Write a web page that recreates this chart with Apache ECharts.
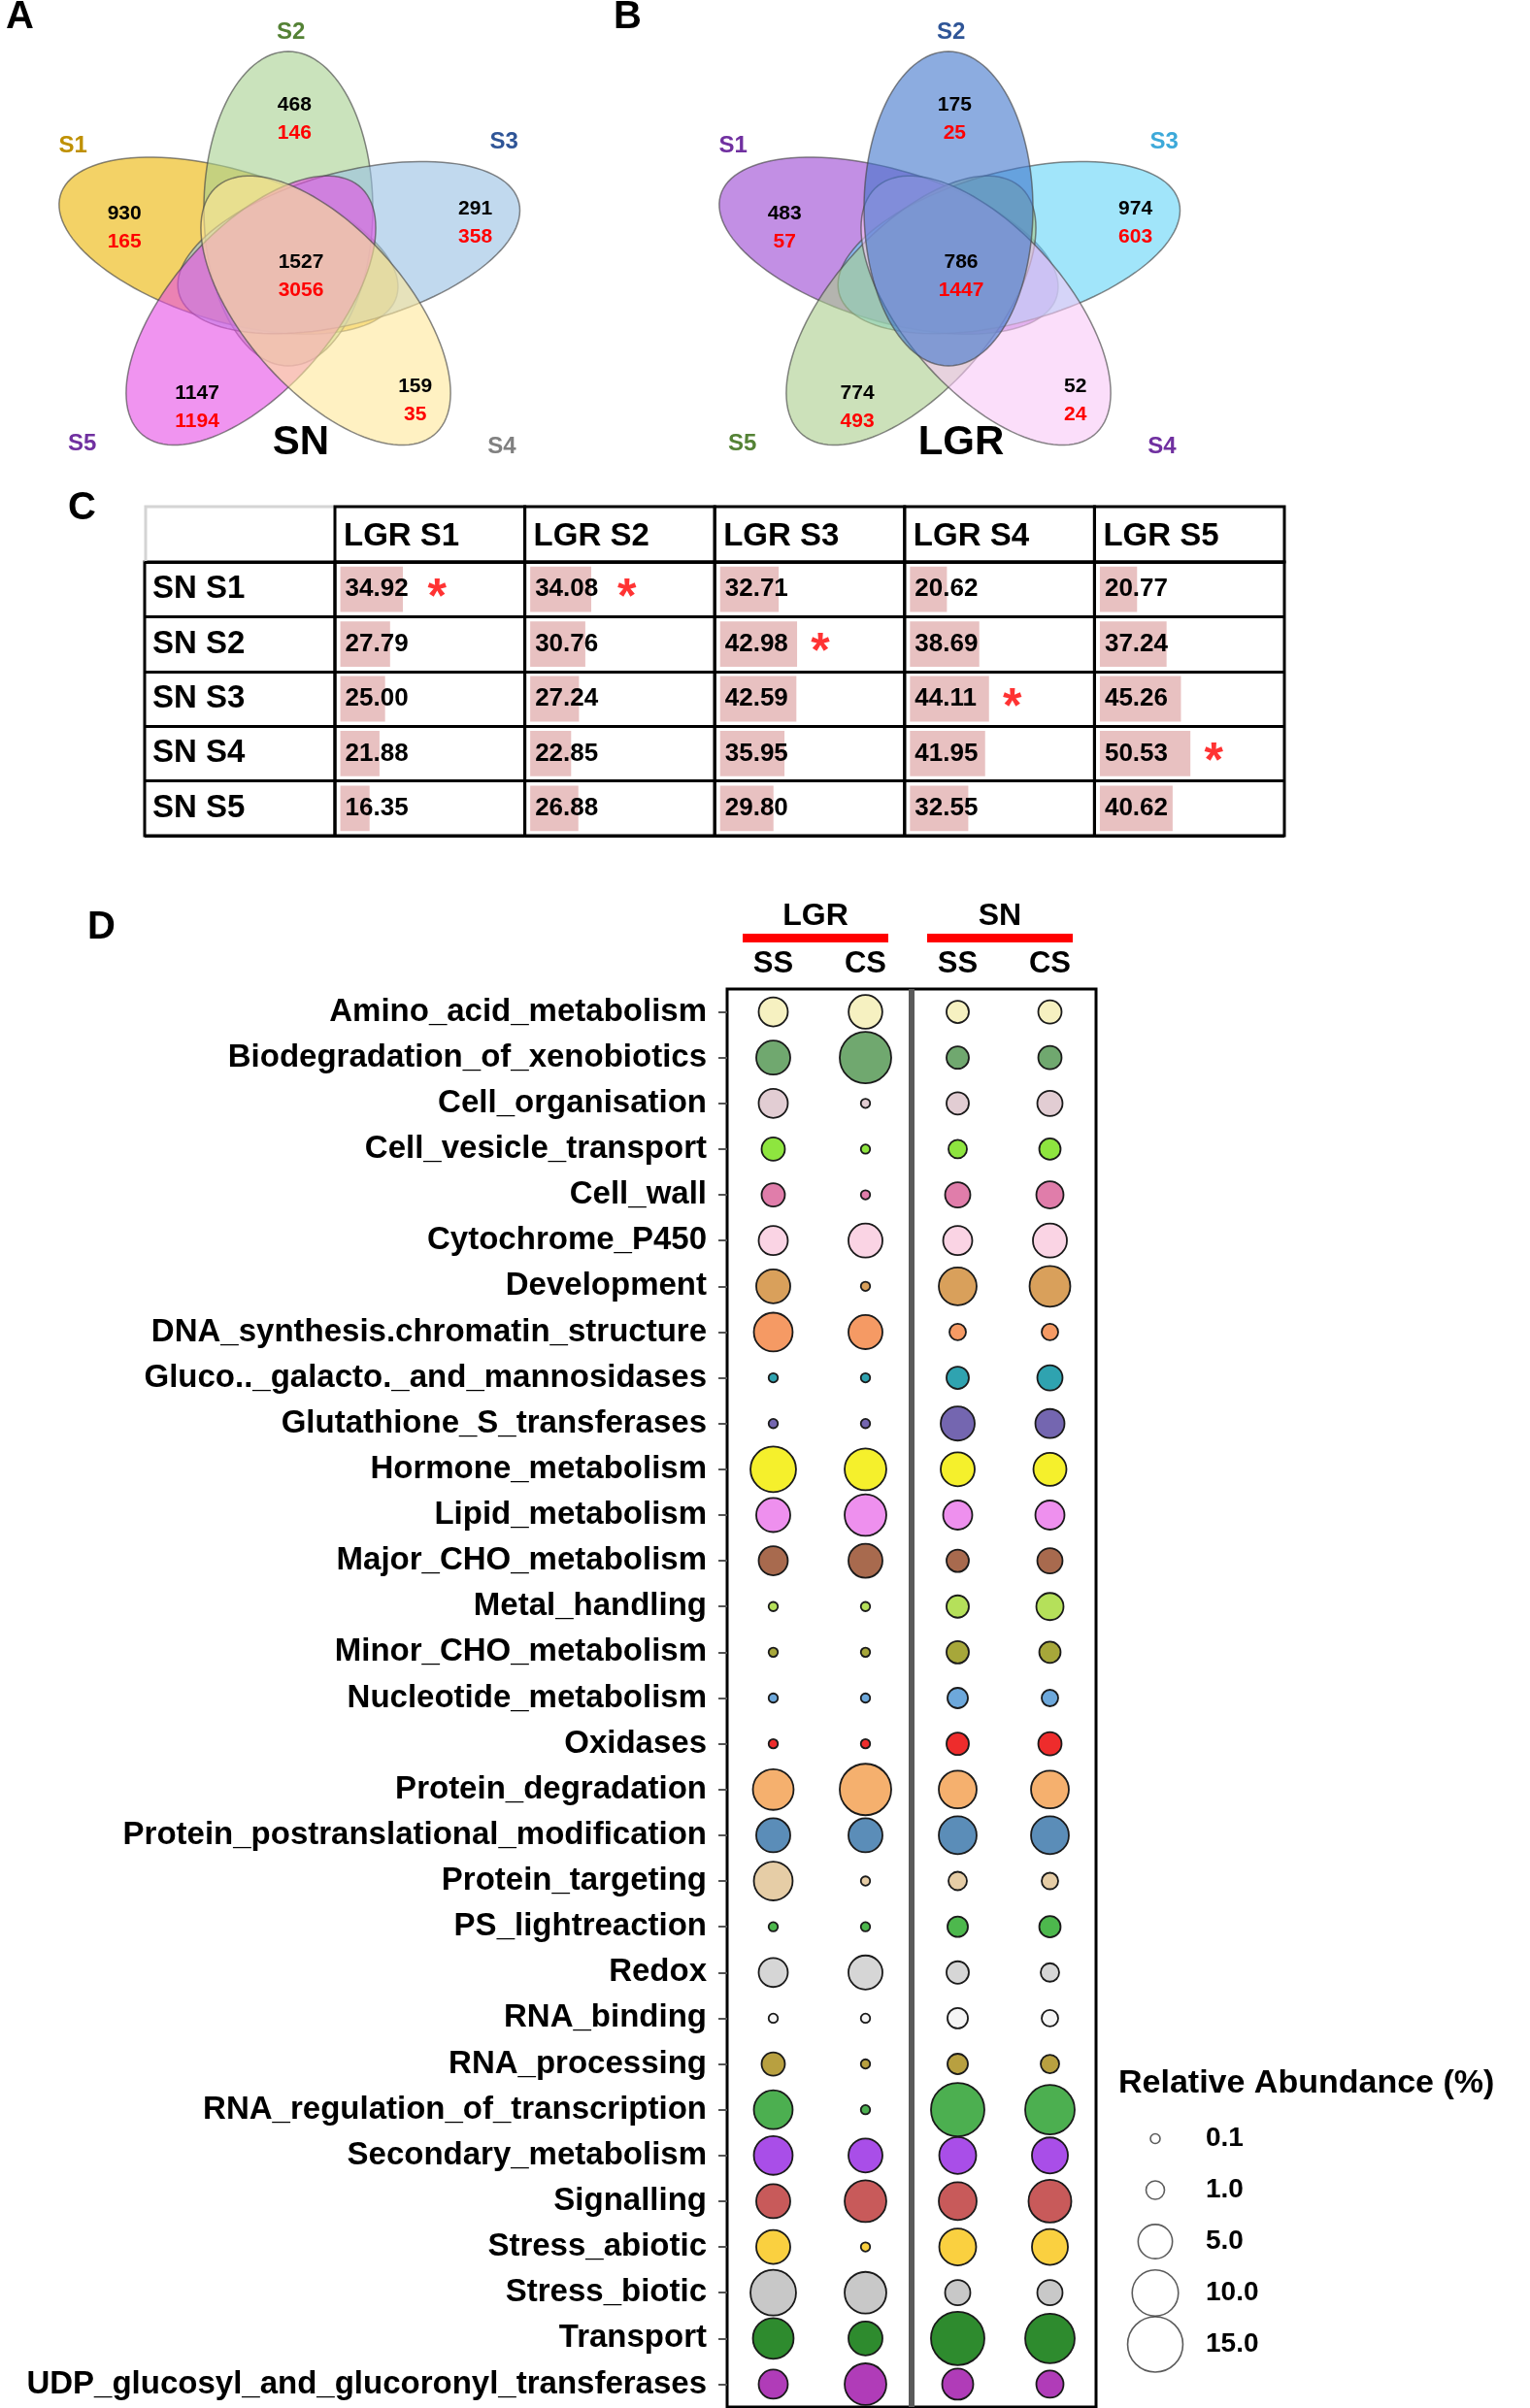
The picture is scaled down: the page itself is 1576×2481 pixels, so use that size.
<!DOCTYPE html>
<html>
<head>
<meta charset="utf-8">
<title>Venn diagrams, similarity table and pathway bubble chart</title>
<script src="https://cdn.jsdelivr.net/npm/echarts@6/dist/echarts.min.js"></script>
<style>
  html, body { margin: 0; padding: 0; background: #fff; }
  #chart { width: 1576px; height: 2481px; }
</style>
</head>
<body>
<div id="chart"></div>
<script>
// ---- data ----
// A / B: Venn counts per set S1..S5 (black = first number, red = second)
const vennSets = ['S1', 'S2', 'S3', 'S4', 'S5']
const snUniqueBlack = [930, 468, 291, 159, 1147]
const snUniqueRed = [165, 146, 358, 35, 1194]
const snCore = [1527, 3056]
const lgrUniqueBlack = [483, 175, 974, 52, 774]
const lgrUniqueRed = [57, 25, 603, 24, 493]
const lgrCore = [786, 1447]

// C: similarity table
const lgrCols = ['LGR S1', 'LGR S2', 'LGR S3', 'LGR S4', 'LGR S5']
const snRows = ['SN S1', 'SN S2', 'SN S3', 'SN S4', 'SN S5']
const similarity = [
  [34.92, 34.08, 32.71, 20.62, 20.77],
  [27.79, 30.76, 42.98, 38.69, 37.24],
  [25.00, 27.24, 42.59, 44.11, 45.26],
  [21.88, 22.85, 35.95, 41.95, 50.53],
  [16.35, 26.88, 29.80, 32.55, 40.62]
]
const starred = [[0, 0], [0, 1], [1, 2], [2, 3], [3, 4]] // [row, col]

// D: relative abundance (%)
const pathways = [
  'Amino_acid_metabolism', 'Biodegradation_of_xenobiotics', 'Cell_organisation',
  'Cell_vesicle_transport', 'Cell_wall', 'Cytochrome_P450', 'Development',
  'DNA_synthesis.chromatin_structure', 'Gluco.._galacto._and_mannosidases',
  'Glutathione_S_transferases', 'Hormone_metabolism', 'Lipid_metabolism',
  'Major_CHO_metabolism', 'Metal_handling', 'Minor_CHO_metabolism',
  'Nucleotide_metabolism', 'Oxidases', 'Protein_degradation',
  'Protein_postranslational_modification', 'Protein_targeting', 'PS_lightreaction',
  'Redox', 'RNA_binding', 'RNA_processing', 'RNA_regulation_of_transcription',
  'Secondary_metabolism', 'Signalling', 'Stress_abiotic', 'Stress_biotic',
  'Transport', 'UDP_glucosyl_and_glucoronyl_transferases'
]
const sampleGroups = ['LGR SS', 'LGR CS', 'SN SS', 'SN CS']
const groupNames = ['LGR', 'SN']
const lgrSS = [3.36, 4.9, 3.36, 1.9, 1.9, 3.36, 4.9, 6.7, 0.08, 0.08, 9.7, 4.9, 3.36, 0.08, 0.08, 0.08,
  0.08, 7.5, 4.9, 6.7, 0.08, 3.36, 0.08, 1.9, 6.7, 6.7, 4.9, 4.9, 9.7, 7.5, 3.36]
const lgrCS = [4.8, 12.8, 0.08, 0.08, 0.08, 4.9, 0.08, 4.9, 0.08, 0.08, 7.9, 7.9, 4.9, 0.08, 0.08, 0.08,
  0.08, 12.8, 4.9, 0.08, 0.08, 4.9, 0.08, 0.08, 0.08, 4.9, 7.9, 0.08, 7.9, 4.9, 7.9]
const snSS = [1.7, 1.7, 1.7, 1.0, 2.34, 3.36, 6.3, 0.72, 1.7, 4.9, 4.9, 3.36, 1.7, 1.7, 1.7, 1.33,
  1.7, 6.3, 6.3, 1.0, 1.33, 1.7, 1.33, 1.33, 13.9, 5.95, 6.3, 5.95, 2.34, 13.9, 3.94]
const snCS = [1.9, 1.9, 2.34, 1.5, 2.83, 4.9, 7.5, 0.72, 2.34, 3.36, 4.56, 3.36, 2.34, 2.83, 1.5, 0.72,
  1.9, 6.3, 6.3, 0.72, 1.5, 1.0, 0.72, 1.0, 11.7, 5.6, 8.4, 5.6, 2.34, 11.7, 2.83]
const legendValues = [0.1, 1.0, 5.0, 10.0, 15.0]

// ---- styles / layout ----
const FONT = '"Liberation Sans", Arial, sans-serif'
const pathwayColors = [
  '#F6F1C1', '#70A86F', '#E2CDD3', '#8EE53F', '#E07DAA', '#FAD4E4', '#D9A05B',
  '#F59A64', '#2FA3B0', '#7466B0', '#F5F02C', '#EE90EE', '#A86A4E', '#B5E05A',
  '#A7A73A', '#6DA8DB', '#EE2C2C', '#F5B06E', '#5B8DB8', '#E6CDA6', '#4DB84D',
  '#D6D6D6', '#F5F5F5', '#B8A040', '#4CAF50', '#A94EE8', '#C85A5A', '#FAD040',
  '#C8C8C8', '#2E8B2E', '#B03CB8'
]
const bubbleSize = v => 5.8 + 13.2 * Math.sqrt(v)

// Venn geometry: five rotated ellipses
const vennGeo = { cx: 297, cy: 273, a: 162, b: 77, d: 58, sx: 1.13, lx: 310, ly: 285, r: 162 }
const setAngle = [160, 90, 18, -54, -126]
const setLabelPolar = [[146, 240], [92, 252], [38, 225], [-45, 248], [-138, 257]]
const vennPanels = [
  {
    name: 'SN', left: 0, black: snUniqueBlack, red: snUniqueRed, core: snCore,
    fills: ['#EBB400', '#A6D08F', '#98BFE3', '#FFE79A', '#E64DE6'],
    labelColors: ['#BF9000', '#548235', '#2F5597', '#808080', '#7030A0'],
    order: [0, 1, 2, 4, 3]
  },
  {
    name: 'LGR', left: 680, black: lgrUniqueBlack, red: lgrUniqueRed, core: lgrCore,
    fills: ['#9A45D2', '#3F74CC', '#63D4F6', '#F9C8F6', '#AACD8C'],
    labelColors: ['#7030A0', '#2F5597', '#3DA9D9', '#7030A0', '#548235'],
    order: [0, 2, 4, 3, 1]
  }
]

const T = { left: 149, top: 522, labelW: 196, colW: 195.6, headH: 57, rowH: 56.4 }
const D = { left: 749, top: 1019, width: 380, height: 1461 }

function rgba(hex, a) {
  const n = parseInt(hex.slice(1), 16)
  return 'rgba(' + (n >> 16) + ',' + ((n >> 8) & 255) + ',' + (n & 255) + ',' + a + ')'
}

function txt(p, text, color, size, align) {
  return {
    type: 'text', x: p[0], y: p[1],
    style: {
      text: String(text), fill: color, font: 'bold ' + size + 'px ' + FONT,
      align: align || 'center', textAlign: align || 'center',
      verticalAlign: 'middle', textVerticalAlign: 'middle'
    }
  }
}

// ellipse outline through the grid's own axes
function ellipseItem(panel) {
  const G = vennGeo
  return function (params, api) {
    const k = api.value(0)
    const t = setAngle[k] * Math.PI / 180
    const pts = []
    for (let i = 0; i < 120; i++) {
      const u = i / 120 * 2 * Math.PI
      const ex = G.a * Math.cos(u)
      const ey = G.b * Math.sin(u)
      const X = G.d * Math.cos(t) + ex * Math.cos(t) - ey * Math.sin(t)
      const Y = G.d * Math.sin(t) + ex * Math.sin(t) + ey * Math.cos(t)
      pts.push(api.coord([G.cx + G.sx * X, G.cy - Y]))
    }
    return {
      type: 'polygon',
      shape: { points: pts },
      style: { fill: rgba(panel.fills[k], 0.6), stroke: 'rgba(70,70,70,0.65)', lineWidth: 1.5 }
    }
  }
}

function vennTextItem(panel) {
  const G = vennGeo
  const recs = vennSets.map((s, k) => ({ kind: 'unique', k }))
  recs.push({ kind: 'core' })
  vennSets.forEach((s, k) => recs.push({ kind: 'set', k }))
  recs.push({ kind: 'name' })
  return {
    count: recs.length,
    render: function (params, api) {
      const r = recs[params.dataIndex]
      if (r.kind === 'unique' || r.kind === 'core') {
        let x = G.lx
        let y = G.ly
        let b = panel.core[0]
        let red = panel.core[1]
        if (r.kind === 'unique') {
          const t = (setAngle[r.k] + 2) * Math.PI / 180
          x += 1.18 * G.r * Math.cos(t)
          y -= G.r * Math.sin(t)
          b = panel.black[r.k]
          red = panel.red[r.k]
        }
        return {
          type: 'group',
          children: [
            txt(api.coord([x, y - 14.5]), b, '#000', 21),
            txt(api.coord([x, y + 14.5]), red, '#FF0000', 21)
          ]
        }
      }
      if (r.kind === 'set') {
        const t = setLabelPolar[r.k][0] * Math.PI / 180
        const rad = setLabelPolar[r.k][1]
        const p = api.coord([G.lx + 1.18 * rad * Math.cos(t), G.ly - rad * Math.sin(t)])
        return txt(p, vennSets[r.k], panel.labelColors[r.k], 24)
      }
      return txt(api.coord([G.lx, G.ly + 171]), panel.name, '#000', 42)
    }
  }
}

// ---- grids / axes / series ----
const grids = []
const xAxes = []
const yAxes = []
const series = []

// Venn panels (grid units == pixels)
vennPanels.forEach((panel, i) => {
  grids.push({ left: panel.left, top: 0, width: 620, height: 500 })
  xAxes.push({ type: 'value', gridIndex: i, min: 0, max: 620, show: false })
  yAxes.push({ type: 'value', gridIndex: i, min: 0, max: 500, inverse: true, show: false })
  series.push({
    type: 'custom', xAxisIndex: i, yAxisIndex: i, silent: true,
    renderItem: ellipseItem(panel),
    data: panel.order.map(k => [k])
  })
  const vt = vennTextItem(panel)
  series.push({
    type: 'custom', xAxisIndex: i, yAxisIndex: i, silent: true, z: 5,
    renderItem: vt.render,
    data: Array.from({ length: vt.count }, (_, j) => [j])
  })
})

// table: row label column
const tableBodyTop = T.top + T.headH
const tableBodyH = T.rowH * snRows.length
grids.push({
  left: T.left, top: tableBodyTop, width: T.labelW, height: tableBodyH,
  show: true, borderColor: '#000', borderWidth: 3
})
xAxes.push({ type: 'value', gridIndex: 2, min: 0, max: 1, show: false })
yAxes.push({
  type: 'category', gridIndex: 2, data: snRows, inverse: true,
  axisLine: { show: false }, axisTick: { show: false },
  axisLabel: { inside: true, margin: 8, color: '#000', fontWeight: 'bold', fontSize: 33, fontFamily: FONT },
  splitLine: { show: true, interval: 0, lineStyle: { color: '#000', width: 3 } }
})

// table: one grid per LGR column, bars via value axis
lgrCols.forEach((col, j) => {
  const gi = 3 + j
  grids.push({
    left: T.left + T.labelW + j * T.colW, top: tableBodyTop, width: T.colW, height: tableBodyH,
    show: true, borderColor: '#000', borderWidth: 3
  })
  xAxes.push({ type: 'value', gridIndex: gi, min: -3, max: 103, show: false })
  yAxes.push({
    type: 'category', gridIndex: gi, data: snRows, inverse: true,
    axisLine: { show: false }, axisTick: { show: false }, axisLabel: { show: false },
    splitLine: { show: true, interval: 0, lineStyle: { color: '#000', width: 3 } }
  })
  series.push({
    type: 'bar', xAxisIndex: gi, yAxisIndex: gi, silent: true,
    barCategoryGap: '17%',
    itemStyle: { color: '#E8C1C1' },
    label: {
      show: true, position: 'insideLeft', distance: 5,
      formatter: p => p.value.toFixed(2),
      color: '#000', fontWeight: 'bold', fontSize: 26, fontFamily: FONT
    },
    data: similarity.map(row => row[j])
  })
  const stars = starred.filter(s => s[1] === j).map(s => [Math.max(similarity[s[0]][j], 41) + 13, s[0]])
  series.push({
    type: 'scatter', xAxisIndex: gi, yAxisIndex: gi, silent: true,
    symbolSize: 1, itemStyle: { color: 'rgba(0,0,0,0)' },
    label: {
      show: true, position: 'inside', formatter: '*', offset: [0, 10],
      color: '#FF0000', fontWeight: 'bold', fontSize: 50, fontFamily: FONT
    },
    data: stars
  })
})

// D: bubble grid
grids.push({ left: D.left, top: D.top, width: D.width, height: D.height, show: true, borderColor: '#000', borderWidth: 3 })
xAxes.push({
  type: 'category', gridIndex: 8, data: sampleGroups, position: 'top',
  axisLine: { show: false }, axisTick: { show: false },
  axisLabel: {
    interval: 0, margin: 10, formatter: v => v.split(' ')[1],
    color: '#000', fontWeight: 'bold', fontSize: 31, fontFamily: FONT
  }
})
yAxes.push({
  type: 'category', gridIndex: 8, data: pathways, inverse: true,
  axisLine: { show: false },
  axisTick: { show: true, alignWithLabel: true, length: 9, lineStyle: { color: '#555', width: 2 } },
  axisLabel: { interval: 0, margin: 21, color: '#000', fontWeight: 'bold', fontSize: 33, fontFamily: FONT }
})
const groupValues = [lgrSS, lgrCS, snSS, snCS]
const bubbles = []
pathways.forEach((p, i) => {
  groupValues.forEach((vals, g) => bubbles.push([g, i, vals[i]]))
})
series.push({
  type: 'scatter', xAxisIndex: 8, yAxisIndex: 8, silent: true,
  symbolSize: v => bubbleSize(v[2]),
  itemStyle: {
    color: p => pathwayColors[p.value[1]],
    borderColor: '#1a1a1a', borderWidth: 1.8, opacity: 1
  },
  data: bubbles
})

// size legend
grids.push({ left: 1160, top: 2177, width: 60, height: 265 })
xAxes.push({ type: 'value', gridIndex: 9, min: -1, max: 1, show: false })
yAxes.push({
  type: 'category', gridIndex: 9, position: 'right', inverse: true,
  data: legendValues.map(v => v.toFixed(1)),
  axisLine: { show: false }, axisTick: { show: false },
  axisLabel: { margin: 22, color: '#000', fontWeight: 'bold', fontSize: 28, fontFamily: FONT }
})
series.push({
  type: 'scatter', xAxisIndex: 9, yAxisIndex: 9, silent: true,
  symbolSize: v => bubbleSize(v[2]),
  itemStyle: { color: '#fff', borderColor: '#333', borderWidth: 1.6 },
  data: legendValues.map((v, i) => [0, i, v])
})

// ---- decorations: table header, D dividers / group headers ----
const graphics = []
graphics.push({
  type: 'polyline', silent: true,
  shape: { points: [[T.left + 1, tableBodyTop], [T.left + 1, T.top], [T.left + T.labelW, T.top]] },
  style: { stroke: '#D4D4D4', lineWidth: 3, fill: null }
})
lgrCols.forEach((name, j) => {
  const x = T.left + T.labelW + j * T.colW
  graphics.push({
    type: 'rect', silent: true,
    shape: { x: x, y: T.top, width: T.colW, height: T.headH },
    style: { fill: null, stroke: '#000', lineWidth: 3 }
  })
  graphics.push(Object.assign(txt([x + 9, T.top + T.headH / 2 + 2], name, '#000', 33, 'left'), { silent: true }))
})
graphics.push({
  type: 'line', silent: true,
  shape: { x1: D.left + D.width / 2, y1: D.top, x2: D.left + D.width / 2, y2: D.top + D.height },
  style: { stroke: '#5A5A5A', lineWidth: 6 }
})
groupNames.forEach((g, i) => {
  const x0 = D.left + i * D.width / 2 + 16
  graphics.push({
    type: 'rect', silent: true,
    shape: { x: x0, y: 962, width: 150, height: 9 },
    style: { fill: '#FF0000' }
  })
  graphics.push(Object.assign(txt([x0 + 75, 944], g, '#000', 32), { silent: true }))
})

const titleStyle = (size) => ({ color: '#000', fontWeight: 'bold', fontSize: size, fontFamily: FONT })
const titles = [
  { text: 'A', left: 6, top: -2, padding: 0, textStyle: titleStyle(40) },
  { text: 'B', left: 632, top: -2, padding: 0, textStyle: titleStyle(40) },
  { text: 'C', left: 70, top: 504, padding: 0, textStyle: titleStyle(40) },
  { text: 'D', left: 90, top: 936, padding: 0, textStyle: titleStyle(40) },
  { text: 'Relative Abundance (%)', left: 1152, top: 2130, padding: 0, textStyle: titleStyle(34) }
]

const chart = echarts.init(document.getElementById('chart'))
chart.setOption({
  animation: false,
  backgroundColor: '#fff',
  title: titles,
  grid: grids,
  xAxis: xAxes,
  yAxis: yAxes,
  series: series,
  graphic: { elements: graphics }
})
</script>
</body>
</html>
